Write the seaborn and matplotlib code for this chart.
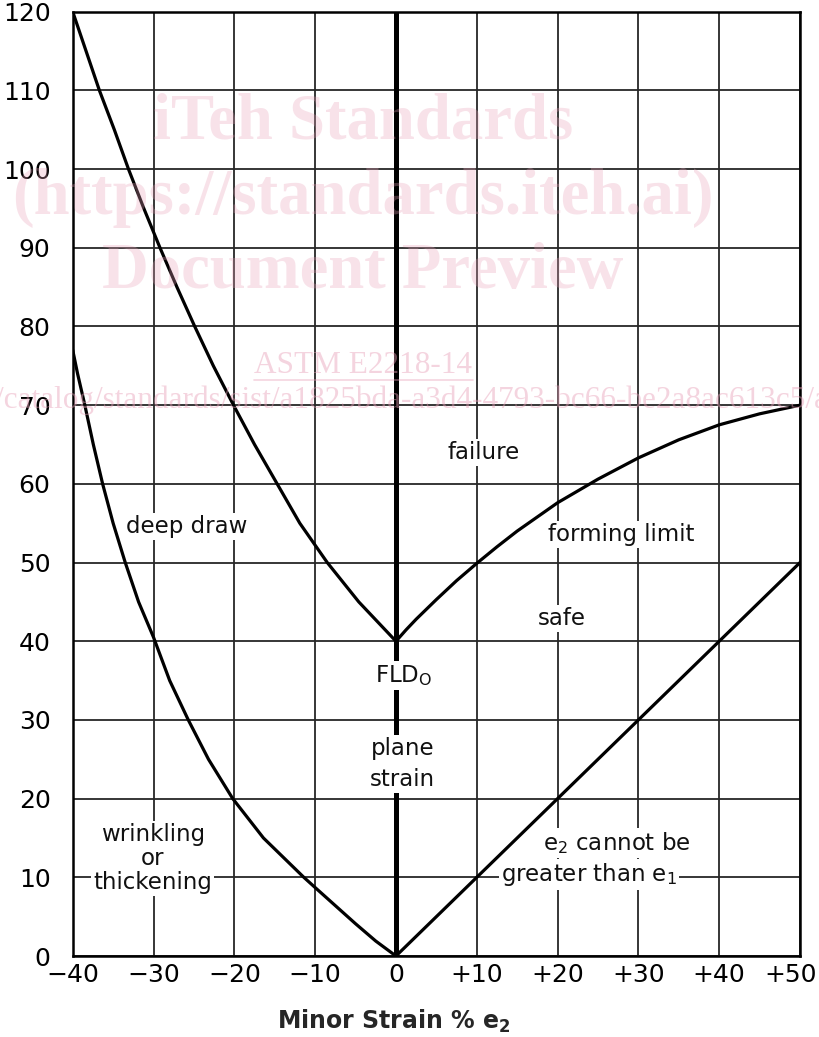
import pandas as pd
import seaborn as sns
import matplotlib.pyplot as plt
import matplotlib.transforms as mtransforms

# forming limit curve, left side (deep draw region)
flc_left_x = [-40, -38.35, -36.7, -34.85, -33.1, -31.2, -29.2, -27.1, -24.9,
              -22.6, -20.1, -17.5, -14.7, -11.9, -8.5, -4.6, 0]
flc_left_y = [120, 115, 110, 105, 100, 95, 90, 85, 80, 75, 70, 65, 60, 55, 50,
              45, 40]
# forming limit curve, right side
flc_right_x = [0, 1.25, 2.5, 5, 7.5, 10, 12.5, 15, 20, 25, 30, 35, 40, 45, 50]
flc_right_y = [40, 41.45, 42.8, 45.3, 47.7, 49.9, 52, 54, 57.6, 60.6, 63.3,
               65.6, 67.5, 68.9, 70]
# wrinkling boundary
wrinkle_x = [-40, -39.4, -38.5, -37.45, -36.3, -35, -33.5, -31.85, -30, -28,
             -25.7, -23.2, -20.2, -16.4, -11.4, -10, -5, -2.5, 0]
wrinkle_y = [77, 74, 70, 65, 60, 55, 50, 45, 40.5, 35, 30, 25, 20, 15, 10, 8.7,
             4.1, 1.9, 0]
# e2 = e1 limit
equal_x = [0, 50]
equal_y = [0, 50]

x_ticks = [-40, -30, -20, -10, 0, 10, 20, 30, 40, 50]
x_tick_labels = ["\u221240", "\u221230", "\u221220", "\u221210", "0",
                 "+10", "+20", "+30", "+40", "+50"]
y_ticks = list(range(0, 121, 10))

region_labels = ["failure", "deep draw", "forming limit", "safe", "FLD$_O$",
                 "plane\nstrain", "wrinkling\nor\nthickening",
                 "e$_2$ cannot be", "greater than e$_1$"]
region_x = [10.9, -25.9, 27.9, 20.5, 0.9, 0.8, -30.1, 27.3, 23.9]
region_y = [64.0, 54.6, 53.6, 42.9, 35.6, 24.4, 12.4, 14.4, 10.4]
region_spacing = [1.2, 1.2, 1.2, 1.2, 1.2, 1.45, 1.06, 1.2, 1.2]

sns.set_style("white")
plt.rcParams['font.family'] = ['DejaVu Sans']
plt.rcParams['mathtext.default'] = 'regular'
plt.rcParams['mathtext.fontset'] = 'dejavusans'

curves = pd.concat([
    pd.DataFrame({"e2": flc_left_x, "e1": flc_left_y, "curve": "flc_left"}),
    pd.DataFrame({"e2": flc_right_x, "e1": flc_right_y, "curve": "flc_right"}),
    pd.DataFrame({"e2": wrinkle_x, "e1": wrinkle_y, "curve": "wrinkle"}),
    pd.DataFrame({"e2": equal_x, "e1": equal_y, "curve": "equal"}),
])

fig = plt.figure(figsize=(8.19, 10.37), dpi=100)
ax = fig.add_axes([0.0888, 0.0781, 0.888, 0.9106])

sns.lineplot(data=curves, x="e2", y="e1", units="curve", estimator=None,
             color="black", linewidth=2.3, sort=False, ax=ax, zorder=4)
ax.axvline(0, color="black", linewidth=3.6, zorder=4)

ax.set_xlim(-40, 50)
ax.set_ylim(0, 120)
ax.set_xticks(x_ticks)
ax.set_xticklabels(x_tick_labels)
ax.set_yticks(y_ticks)
ax.grid(True, color="#262626", linewidth=1.3)
ax.tick_params(axis="both", length=0, labelsize=18, colors="black")
ax.tick_params(axis="y", pad=16)
ax.tick_params(axis="x", pad=5)
last = ax.get_xticklabels()[-1]
last.set_transform(last.get_transform() +
                   mtransforms.ScaledTranslation(-7 / 72, 0, fig.dpi_scale_trans))
for s in ax.spines.values():
    s.set_color("black")
    s.set_linewidth(1.8)

ax.set_xlabel("Minor Strain % e$_\\mathbf{2}$", fontsize=17, fontweight="bold")
ax.set_ylabel("")
ax.xaxis.set_label_coords(0.442, -0.055)

for txt, lx, ly, lsp in zip(region_labels, region_x, region_y, region_spacing):
    ax.text(lx, ly, txt, ha="center", va="center", fontsize=16.5,
            linespacing=lsp, color="#111111", zorder=6,
            bbox=dict(facecolor="white", edgecolor="none", pad=1.5))

# watermark
wm = "#e8a0b8"
big = dict(ha="center", va="center", fontsize=46.5, fontweight="bold",
           family="Liberation Serif", color=wm, alpha=0.3, zorder=10)
fig.text(0.443, 0.882, "iTeh Standards", **big)
fig.text(0.443, 0.809, "(https://standards.iteh.ai)", **big)
fig.text(0.443, 0.738, "Document Preview", **big)
fig.text(0.443, 0.648, "ASTM E2218-14", ha="center", va="center",
         fontsize=22.5, family="Liberation Serif", color=wm, alpha=0.45,
         zorder=10)
fig.add_artist(plt.Line2D([0.31, 0.578], [0.6335, 0.6335], color=wm,
                          alpha=0.45, linewidth=1.2, transform=fig.transFigure))
fig.text(-0.006, 0.614,
         "/catalog/standards/sist/a1825bda-a3d4-4793-bc66-be2a8ac613c5/astm-e2218-14",
         ha="left", va="center", fontsize=22.5, family="Liberation Serif",
         color=wm, alpha=0.45, zorder=10)

fig.savefig("out.png", dpi=100)
